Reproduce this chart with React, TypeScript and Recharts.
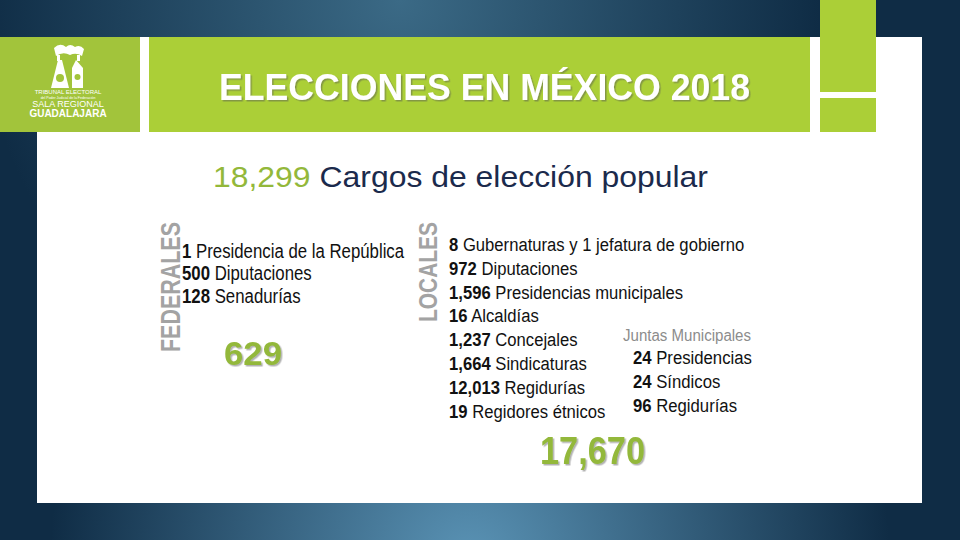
import React from 'react';
import { Surface, Layer } from 'recharts';

// textos de la diapositiva
const titulo = 'ELECCIONES EN MÉXICO 2018';
const totalCargos = '18,299';
const subtitulo = 'Cargos de elección popular';

const federalesCantidades = ['1', '500', '128'];
const federalesCargos = ['Presidencia de la República', 'Diputaciones', 'Senadurías'];
const totalFederales = '629';

const localesCantidades = ['8', '972', '1,596', '16', '1,237', '1,664', '12,013', '19'];
const localesCargos = [
  'Gubernaturas y 1 jefatura de gobierno',
  'Diputaciones',
  'Presidencias municipales',
  'Alcaldías',
  'Concejales',
  'Sindicaturas',
  'Regidurías',
  'Regidores étnicos'
];
const totalLocales = '17,670';

const juntasTitulo = 'Juntas Municipales';
const juntasCantidades = ['24', '24', '96'];
const juntasCargos = ['Presidencias', 'Síndicos', 'Regidurías'];

const VERDE = '#abcf37';
const VERDE_OSCURO = '#a2c43b';
const VERDE_NUM = '#93b83a';
const AZUL = '#1b2a4c';
const GRIS = '#a3a3a3';
const FONT = '"Liberation Sans", Arial, sans-serif';

const Logo = () => (
  <Layer>
    <rect x={0} y={37} width={140} height={95} fill={VERDE_OSCURO} />
    {/* emblema simplificado */}
    <g fill="#fff">
      <path d="M54 48 Q60 42 66 47 Q70 43 75 47 Q80 44 84 49 L82 56 Q76 52 70 55 Q63 51 56 56 Z" />
      <rect x={57} y={55} width={3} height={6} />
      <rect x={77} y={55} width={3} height={6} />
      <path d="M58 60 L51 88 L69 88 L62 60 Z" />
      <path d="M76 60 L72 68 L72 88 L83 88 L83 68 Z" />
    </g>
    <g fill={VERDE_OSCURO}>
      <circle cx={60} cy={78} r={4} />
      <circle cx={77.5} cy={77} r={3} />
    </g>
    <g fill="#fff" fontFamily={FONT} textAnchor="middle">
      <text x={68} y={94} fontSize={6}>TRIBUNAL ELECTORAL</text>
      <text x={68} y={99} fontSize={3.5}>del Poder Judicial de la Federación</text>
      <text x={68} y={107} fontSize={9}>SALA REGIONAL</text>
      <text x={68} y={117} fontSize={10} fontWeight="bold">GUADALAJARA</text>
    </g>
  </Layer>
);

const Fondo = () => (
  <Layer>
    <defs>
      <radialGradient id="luzArriba" cx="400" cy="0" r="420" gradientUnits="userSpaceOnUse">
        <stop offset="0%" stopColor="#3b6a86" />
        <stop offset="100%" stopColor="#3b6a86" stopOpacity={0} />
      </radialGradient>
      <radialGradient id="luzAbajo" cx="470" cy="560" r="420" gradientUnits="userSpaceOnUse">
        <stop offset="0%" stopColor="#5a93b5" />
        <stop offset="100%" stopColor="#5a93b5" stopOpacity={0} />
      </radialGradient>
      <filter id="sombra" x="-10%" y="-20%" width="130%" height="150%">
        <feDropShadow dx={1.5} dy={1.5} stdDeviation={0.6} floodColor="#555" floodOpacity={0.45} />
      </filter>
    </defs>
    <rect x={0} y={0} width={960} height={540} fill="#0f2c45" />
    <rect x={0} y={0} width={960} height={540} fill="url(#luzArriba)" />
    <rect x={0} y={0} width={960} height={540} fill="url(#luzAbajo)" />
    <rect x={37} y={37} width={885} height={466} fill="#fff" />
  </Layer>
);

const Lista = ({ x, y, paso, cantidades, cargos, fontSize, escala }: any) => (
  <g transform={`translate(${x},0) scale(${escala},1)`} fontFamily={FONT} fontSize={fontSize} fill="#111">
    {cantidades.map((c: string, i: number) => (
      <text key={i} x={0} y={y + i * paso}>
        <tspan fontWeight="bold">{c}</tspan>
        <tspan> {cargos[i]}</tspan>
      </text>
    ))}
  </g>
);

const App = () => (
  <div style={{ position: 'absolute', left: 0, top: 0, width: 960, height: 540 }}>
    <Surface width={960} height={540} viewBox={{ x: 0, y: 0, width: 960, height: 540 }}>
      <Fondo />
      <Logo />
      {/* barras verdes del encabezado */}
      <rect x={149} y={37} width={661} height={95} fill={VERDE} />
      <rect x={820} y={0} width={56} height={92} fill={VERDE} />
      <rect x={820} y={98} width={56} height={34} fill={VERDE} />

      <text x={219} y={100} fontFamily={FONT} fontSize={37} fontWeight="bold" fill="#fff" filter="url(#sombra)"
        textLength={531} lengthAdjust="spacingAndGlyphs">{titulo}</text>

      <text x={213} y={187} fontFamily={FONT} fontSize={30} textLength={495} lengthAdjust="spacingAndGlyphs">
        <tspan fill={VERDE_NUM}>{totalCargos}</tspan>
        <tspan fill={AZUL}> {subtitulo}</tspan>
      </text>

      {/* federales */}
      <text x={180} y={287} transform="rotate(-90 180 287)" textAnchor="middle" fontFamily={FONT}
        fontSize={27} fontWeight="bold" fill={GRIS} textLength={130} lengthAdjust="spacingAndGlyphs">FEDERALES</text>
      <Lista x={182} y={258} paso={22.5} cantidades={federalesCantidades} cargos={federalesCargos} fontSize={21} escala={0.8} />
      <text x={224} y={365} fontFamily={FONT} fontSize={34} fontWeight="bold" fill={VERDE_NUM} filter="url(#sombra)"
        textLength={58} lengthAdjust="spacingAndGlyphs">{totalFederales}</text>

      {/* locales */}
      <text x={437} y={272} transform="rotate(-90 437 272)" textAnchor="middle" fontFamily={FONT}
        fontSize={26} fontWeight="bold" fill={GRIS} textLength={100} lengthAdjust="spacingAndGlyphs">LOCALES</text>
      <Lista x={449} y={251} paso={23.8} cantidades={localesCantidades} cargos={localesCargos} fontSize={19} escala={0.876} />

      <text x={623} y={341} fontFamily={FONT} fontSize={16} fill="#8c8c8c" textLength={128} lengthAdjust="spacingAndGlyphs">{juntasTitulo}</text>
      <Lista x={633} y={364} paso={23.8} cantidades={juntasCantidades} cargos={juntasCargos} fontSize={19} escala={0.88} />

      <text x={540} y={464} fontFamily={FONT} fontSize={38} fontWeight="bold" fill={VERDE_NUM} filter="url(#sombra)"
        textLength={105} lengthAdjust="spacingAndGlyphs">{totalLocales}</text>
    </Surface>
  </div>
);

export default App;
